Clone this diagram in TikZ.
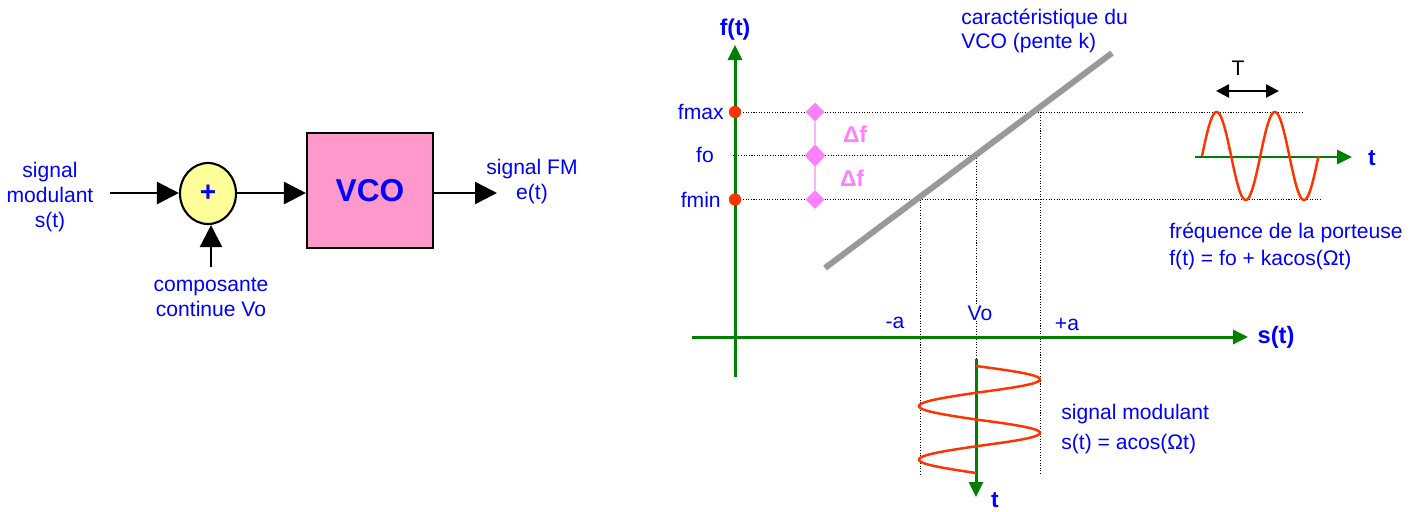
\documentclass[tikz,border=0pt]{standalone}
\usepackage{fontspec}
\setmainfont{Liberation Sans}
\usetikzlibrary{arrows.meta, positioning, calc, shapes.geometric}
\definecolor{inkblue}{HTML}{0000FF}
\definecolor{axisgreen}{HTML}{008000}
\definecolor{wavered}{HTML}{FF3300}
\definecolor{vcopink}{HTML}{FF99CC}
\definecolor{sumyellow}{HTML}{FFFF99}
\definecolor{slopegray}{HTML}{999999}
\definecolor{deltapink}{HTML}{FF80FF}
\newcommand{\levelmark}[4]{%
  \node[diamond, fill=deltapink, inner sep=0pt,
        minimum width=#3, minimum height=#4] (#1) at (815,#2) {};}

\begin{document}
\begin{tikzpicture}[x=0.02cm, y=-0.02cm, font=\fontsize{12}{15}\selectfont,
    txt/.style={text=inkblue, inner sep=0pt},
    small/.style={font=\fontsize{12}{14.2}\selectfont},
    axislabel/.style={text=inkblue, inner sep=0pt, font=\fontsize{13}{13}\selectfont\bfseries},
    blockarrow/.style={-{Triangle[length=0.44cm, width=0.44cm]}, line width=1.4pt},
    axis/.style={-{Triangle[length=0.3cm, width=0.28cm]}, axisgreen, line width=1.7pt},
    guide/.style={dash pattern=on 0.6pt off 0.9pt, line width=0.5pt},
    wave/.style={wavered, line width=1.4pt},
    reddot/.style={circle, fill=wavered, inner sep=0pt, minimum size=0.24cm}]
  \useasboundingbox (0,0) rectangle (1422,511);

  % block diagram
  \node[txt, small, align=center] (sin) at (50,197) {signal\\modulant\\s(t)};
  \node[ellipse, draw, line width=1.2pt, fill=sumyellow, inner sep=0pt,
        minimum width=1.12cm, minimum height=1.22cm, text=inkblue,
        font=\fontsize{16}{16}\selectfont\bfseries] (sum) at (208,193.5) {+};
  \node[draw, line width=1.2pt, fill=vcopink, minimum width=2.52cm, minimum height=2.3cm,
        text=inkblue, font=\fontsize{18}{18}\selectfont\bfseries] (vco) at (370,190.5) {VCO};
  \node[txt, small, align=center] (sfm) at (532,182) {signal FM\\e(t)};
  \node[txt, small, align=center] (vol) at (211,297) {composante\\continue Vo};
  \coordinate (sin end) at (110,193);
  \coordinate (vo end) at (211,267);
  \coordinate (fm end) at (497,193);
  \draw[blockarrow] (sin end) -- (sin end -| sum.west);
  \draw[blockarrow] (sum.east |- sin end) -- (sin end -| vco.west);
  \draw[blockarrow] (vo end) -- (vo end |- sum.south);
  \draw[blockarrow] (vco.east |- fm end) -- (fm end);

  % characteristic
  \coordinate (pfo) at (733,155.5);
  \coordinate (q0) at (976,155.5);
  \coordinate (gmax) at (1303,112);
  \coordinate (gmin) at (1321,199.5);
  \coordinate (qm top) at (920,199.5);
  \coordinate (qm bot) at (920,475);
  \coordinate (qp top) at (1040,112);
  \coordinate (qp bot) at (1040,475);
  \coordinate (mt0) at (976,359);
  \coordinate (mt1) at (976,497);
  \node[txt] (ml) at (895,323) {-a};
  \node[txt] (v0) at (980,313) {Vo};
  \node[txt] (pl) at (1067,325) {+a};
  \node[reddot] (pmax) at (735,112) {};
  \node[reddot] (pmin) at (735,199.5) {};
  \draw[guide] (pmax.center) -- (gmax);
  \draw[guide] (pfo) -- (q0);
  \draw[guide] (pmin.center) -- (gmin);
  \draw[guide] (qm top) -- (qm bot);
  \draw[guide] (qp top) -- (qp bot);
  \draw[guide] (q0) -- (v0.north -| q0);
  \draw[guide] (v0.south -| q0) -- (mt0);

  \coordinate (k1) at (825,268);
  \coordinate (k2) at (1112,53);
  \draw[slopegray, line width=3.4pt] (k1) -- (k2);
  \node[txt, align=left, font=\fontsize{12}{14}\selectfont, anchor=west] (kl) at (961,31)
    {caractéristique du\\VCO (pente k)};

  \coordinate (fbot) at (735,377);
  \coordinate (ftop) at (735,45);
  \coordinate (sa0) at (692,337);
  \coordinate (sa1) at (1248,337);
  \draw[axis] (fbot) -- (ftop);
  \draw[axis] (sa0) -- (sa1);
  \node[axislabel] (ft) at (735,30) {f(t)};
  \node[axislabel, font=\fontsize{13.5}{13.5}\selectfont\bfseries] (st) at (1276,337) {s(t)};
  \node[reddot] at (pmax) {};
  \node[reddot] at (pmin) {};
  \node[txt, anchor=east] (fmaxl) at (724,112) {fmax};
  \node[txt] (fol) at (705,155) {fo};
  \node[txt, anchor=east] (fminl) at (721,199.5) {fmin};

  \levelmark{dmax}{112}{0.38cm}{0.38cm}
  \levelmark{dfo}{155.5}{0.42cm}{0.46cm}
  \levelmark{dmin}{199.5}{0.38cm}{0.38cm}
  \draw[deltapink!60, line width=1pt] (dmax) -- (dfo) -- (dmin);
  \node[text=deltapink, font=\fontsize{13}{13}\selectfont\bfseries] (df1) at (855,134) {Δf};
  \node[text=deltapink, font=\fontsize{13}{13}\selectfont\bfseries] (df2) at (852,178) {Δf};

  % carrier
  \coordinate (ct0) at (1195,157);
  \coordinate (ct1) at (1352,157);
  \draw[axis] (ct0) -- (ct1);
  \node[axislabel] (ctl) at (1372,158) {t};
  \draw[wave] plot[domain=0:116.5, samples=120] ({1202+\x},{156-44*sin(6.1803*\x)});
  \coordinate (T1) at (1216,91);
  \coordinate (T2) at (1279,91);
  \draw[{Triangle[length=0.26cm, width=0.26cm]}-{Triangle[length=0.26cm, width=0.26cm]},
        line width=1.4pt] (T1) -- (T2);
  \node (Tl) at (1238,68) {T};
  \node[txt, align=left, font=\fontsize{12}{15.3}\selectfont, anchor=west] (cl) at (1169,246)
    {fréquence de la porteuse\\f(t) = fo + kacos(Ωt)};

  % modulating signal
  \draw[axis] (mt0) -- (mt1);
  \node[axislabel] (mtl) at (995,500) {t};
  \draw[wave] plot[domain=0:107, samples=140]
    ({976+(sin(6.729*\x) > 0 ? 64 : 57)*sin(6.729*\x)},{366+\x});
  \node[txt, align=left, font=\fontsize{12}{17}\selectfont, anchor=west] (sl) at (1061,429)
    {signal modulant\\s(t) = acos(Ωt)};
\end{tikzpicture}
\end{document}
